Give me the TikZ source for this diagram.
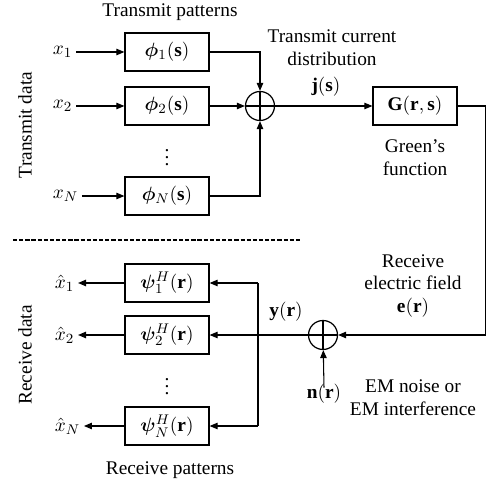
\documentclass[tikz,border=0pt]{standalone}
\usepackage{amsmath}
\usepackage{bm}
\usepackage{fontspec}
\setmainfont{Liberation Serif}
\usetikzlibrary{arrows.meta}
\usetikzlibrary{calc,positioning}

\begin{document}
\begin{tikzpicture}[x=0.02cm, y=-0.02cm, font=\fontsize{11}{13}\selectfont,
        patbox/.style={draw, line width=0.7pt, minimum width=1.68cm, minimum height=0.76cm, inner sep=0pt},
        sumnode/.style={draw, circle, line width=0.7pt, minimum size=0.58cm, inner sep=0pt},
        arr/.style={-{Triangle[length=1.6mm, width=1.3mm]}, line width=0.6pt},
        txt/.style={align=center, inner sep=0pt}]
            \useasboundingbox (0,0) rectangle (487,483);

            % Transmit pattern boxes and inputs
            \foreach \i/\y in {1/52, 2/106, N/196} {
                \node[patbox] (phi\i) at (167,\y) {$\bm{\phi}_{\i}(\mathbf{s})$};
                \node[anchor=west, inner sep=2pt] (x\i) at (49,\y) {$x_{\i}$};
                \draw[arr] (x\i) -- (phi\i);
            }
            \node (dotsT) at (167,152) {$\vdots$};
            \node[txt] (txpat) at (170,12) {Transmit patterns};
            \node[txt, rotate=90] (txdata) at (25,125) {Transmit data};

            % Transmit adder
            \node[sumnode] (sumT) at (260,106) {};
            \draw[line width=0.6pt] (sumT.north) -- (sumT.south) (sumT.west) -- (sumT.east);
            \draw[arr] (phi1.east) -| (sumT.north);
            \draw[arr] (phi2) -- (sumT);
            \draw[arr] (phiN.east) -| (sumT.south);

            % Green's function
            \node[patbox] (green) at (415,106) {$\mathbf{G}(\mathbf{r},\mathbf{s})$};
            \draw[arr] (sumT) -- (green);
            \node[txt] (curtxt) at (332,48) {Transmit current\\distribution};
            \node[txt] (jlab) at (326,87) {$\mathbf{j}(\mathbf{s})$};
            \node[txt] (gtxt) at (415,158) {Green’s\\function};

            % Separator
            \draw[line width=0.6pt, dash pattern=on 2.4pt off 1.1pt] (13,240) -- (300,240);

            % Receive adder
            \node[sumnode] (sumR) at (323,335) {};
            \draw[line width=0.6pt] (sumR.north) -- (sumR.south) (sumR.west) -- (sumR.east);
            \draw[arr] (green.east) -- ++(28,0) |- (sumR.east);
            \node[txt] (etxt) at (413,286) {Receive\\electric field\\$\mathbf{e}(\mathbf{r})$};
            \node[txt] (ylab) at (286,312) {$\mathbf{y}(\mathbf{r})$};
            \node[txt] (noise) at (324,394) {$\mathbf{n}(\mathbf{r})$};
            \draw[arr] ([yshift=-2pt]noise.north) -- (sumR);
            \node[txt] (emtxt) at (413,398) {EM noise or\\EM interference};

            % Receive pattern boxes and outputs
            \foreach \i/\y in {1/283, 2/335, N/426} {
                \node[patbox] (psi\i) at (167,\y) {$\bm{\psi}_{\i}^{H}(\mathbf{r})$};
                \node[anchor=west, inner sep=2pt] (xh\i) at (51,\y) {$\hat{x}_{\i}$};
                \draw[arr] (psi\i) -- (xh\i);
            }
            \coordinate (busT) at (258,283);
            \coordinate (busB) at (258,426);
            \draw[line width=0.6pt] (busT) -- (busB);
            \draw[arr] (busT) -- (psi1);
            \draw[arr] (busB) -- (psiN);
            \draw[arr] (sumR) -- (psi2);
            \node (dotsR) at (167,381) {$\vdots$};
            \node[txt] (rxpat) at (170,470) {Receive patterns};
            \node[txt, rotate=90] (rxdata) at (25,355) {Receive data};
        \end{tikzpicture}
\end{document}
